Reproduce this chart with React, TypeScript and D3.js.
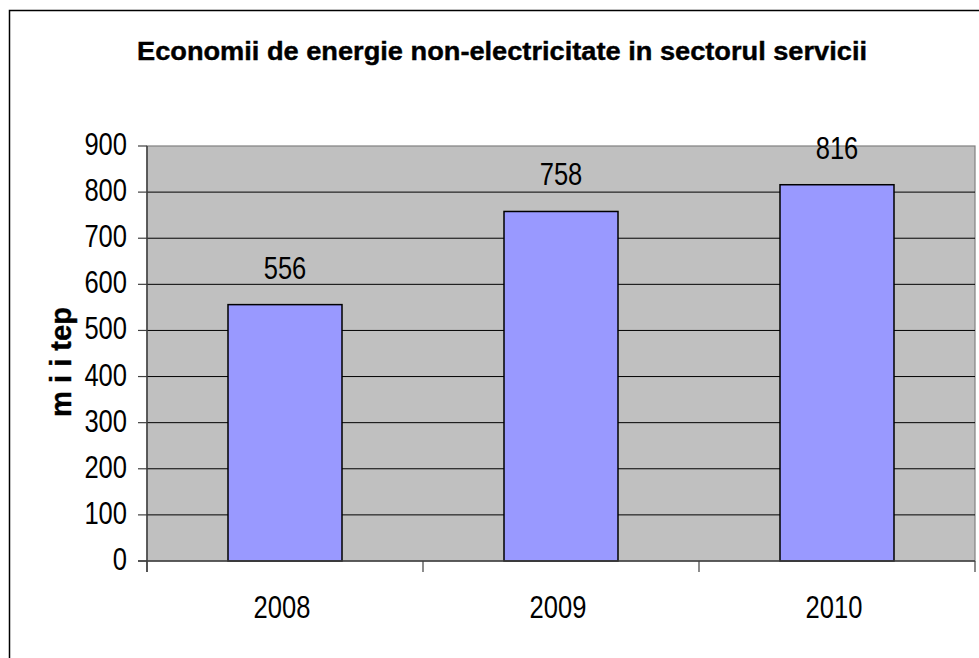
import React from "react";
import * as d3 from "d3";

const categories = ["2008", "2009", "2010"];
const values = [556, 758, 816];
const yTicks = [0, 100, 200, 300, 400, 500, 600, 700, 800, 900];
const title = "Economii de energie non-electricitate in sectorul servicii";
const yTitle = "m i i tep";

export default function App() {
  const W = 979, H = 658;
  const left = 147, right = 975, top = 146, bottom = 561;
  const x = d3.scaleBand<string>().domain(categories).range([left, right]).paddingInner(0).paddingOuter(0);
  const y = d3.scaleLinear().domain([0, 900]).range([bottom, top]);
  const barW = 114;
  const font = "'Liberation Sans', Arial, sans-serif";
  const digitW = 14.2;
  const boundaries = [left, ...categories.map((c) => (x(c) as number) + x.bandwidth())];
  return (
    <svg width={W} height={H} style={{ position: "absolute", left: 0, top: 0, background: "#fff" }}>
      <rect x={9.5} y={10.5} width={1100} height={1100} fill="#fff" stroke="#000" strokeWidth={1.5} />
      <text x={502} y={60} textAnchor="middle" fontFamily={font} fontWeight="bold" fontSize={25}
        stroke="#000" strokeWidth={0.4}
        textLength={730} lengthAdjust="spacingAndGlyphs">{title}</text>
      <rect x={left} y={top} width={right - left} height={bottom - top} fill="#C0C0C0" stroke="#808080" strokeWidth={1.2} />
      {yTicks.filter((t) => t > 0 && t < 900).map((t) => (
        <line key={"g" + t} x1={left} x2={right} y1={y(t)} y2={y(t)} stroke="#000" strokeWidth={1} />
      ))}
      {categories.map((c, i) => {
        const cx = (x(c) as number) + x.bandwidth() / 2;
        const v = values[i];
        const s = String(v);
        return (
          <g key={c}>
            <rect x={cx - barW / 2} y={y(v)} width={barW} height={bottom - y(v)} fill="#9999FF" stroke="#000" strokeWidth={1.5} />
            <text x={cx} y={y(v) - 26} textAnchor="middle" fontFamily={font} fontSize={31}
              textLength={s.length * digitW} lengthAdjust="spacingAndGlyphs">{s}</text>
            <text x={cx - 3} y={618} textAnchor="middle" fontFamily={font} fontSize={31}
              textLength={c.length * digitW} lengthAdjust="spacingAndGlyphs">{c}</text>
          </g>
        );
      })}
      <line x1={left} x2={left} y1={top} y2={bottom + 11} stroke="#404040" strokeWidth={1.5} />
      <line x1={left - 9} x2={right} y1={bottom} y2={bottom} stroke="#404040" strokeWidth={1.5} />
      {yTicks.map((t) => {
        const s = String(t);
        return (
          <g key={"t" + t}>
            <line x1={left - 9} x2={left} y1={y(t)} y2={y(t)} stroke="#404040" strokeWidth={1.2} />
            <text x={127} y={y(t) + 9} textAnchor="end" fontFamily={font} fontSize={31}
              textLength={s.length * digitW} lengthAdjust="spacingAndGlyphs">{s}</text>
          </g>
        );
      })}
      {boundaries.map((b, i) => (
        <line key={"b" + i} x1={b} x2={b} y1={bottom} y2={bottom + 11} stroke="#404040" strokeWidth={1.2} />
      ))}
      <text transform={`translate(71, ${362}) rotate(-90)`} textAnchor="middle" fontFamily={font}
        fontWeight="bold" fontSize={30} stroke="#000" strokeWidth={0.4}
        textLength={110} lengthAdjust="spacingAndGlyphs">{yTitle}</text>
    </svg>
  );
}
